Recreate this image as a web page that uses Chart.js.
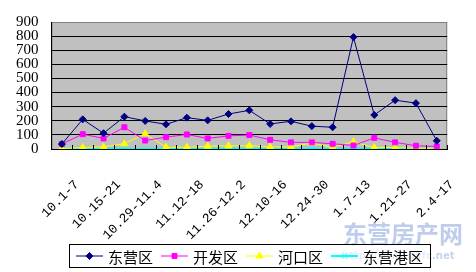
<!DOCTYPE html>
<html>
<head>
<meta charset="utf-8">
<script src="https://cdn.jsdelivr.net/npm/chart.js@4"></script>
<style>
  html, body { margin: 0; padding: 0; background: #fff; }
</style>
</head>
<body>
<canvas id="chart" width="476" height="272"></canvas>
<script>
// weekly periods (x categories)
const weeks = ['10.1-7', '10.8-14', '10.15-21', '10.22-28', '10.29-11.4', '11.5-11', '11.12-18', '11.19-25',
  '11.26-12.2', '12.3-9', '12.10-16', '12.17-23', '12.24-30', '12.31-1.6', '1.7-13', '1.14-20', '1.21-27',
  '1.28-2.3', '2.4-17'];
// only every other week is labelled on the axis
const shownLabels = ['10.1-7', '10.15-21', '10.29-11.4', '11.12-18', '11.26-12.2', '12.10-16', '12.24-30',
  '1.7-13', '1.21-27', '2.4-17'];
const yTicks = [0, 100, 200, 300, 400, 500, 600, 700, 800, 900];

const dongying = [35, 210, 112, 229, 199, 175, 222, 203, 248, 274, 178, 196, 162, 154, 793, 241, 346, 325, 58];
const kaifa = [36, 105, 75, 154, 60, 84, 103, 75, 93, 99, 65, 47, 47, 37, 25, 79, 47, 23, 18];
const hekou = [3, 10, 15, 37, 108, 12, 12, 20, 22, 23, 14, 15, 42, 12, 51, 10, 10, 5, 5];
const gangqu = [3, 2, 3, 2, 2, 3, 2, 2, 3, 2, 2, 2, 3, 2, 2, 3, 2, 2, 2];

// plot background, inward x ticks, boxed legend and watermark
const excelLook = {
  id: 'excelLook',
  beforeDraw(chart) {
    const ctx = chart.ctx, a = chart.chartArea;
    ctx.save();
    ctx.fillStyle = '#c0c0c0';
    ctx.fillRect(a.left, a.top, a.right - a.left, a.bottom - a.top);
    ctx.strokeStyle = '#808080';
    ctx.lineWidth = 1;
    ctx.strokeRect(a.left + 0.5, a.top + 0.5, a.right - a.left - 1, a.bottom - a.top);
    ctx.restore();
  },
  afterDraw(chart) {
    const ctx = chart.ctx, a = chart.chartArea;
    const xs = chart.scales.x;
    ctx.save();
    // tick marks at category boundaries, pointing up into the plot
    ctx.strokeStyle = '#000';
    ctx.lineWidth = 1;
    const n = weeks.length;
    for (let i = 0; i <= n; i++) {
      const x = Math.round(xs.getPixelForDecimal(i / n)) + 0.5;
      ctx.beginPath();
      ctx.moveTo(x, a.bottom);
      ctx.lineTo(x, a.bottom - 4);
      ctx.stroke();
    }

    // watermark
    ctx.fillStyle = 'rgba(110, 145, 210, 0.45)';
    ctx.font = 'bold 24px "Noto Sans CJK SC"';
    ctx.textBaseline = 'alphabetic';
    ctx.textAlign = 'left';
    ctx.fillText('东营房产网', 343, 243);
    ctx.fillStyle = 'rgba(110, 145, 210, 0.4)';
    ctx.font = 'bold 10px "DejaVu Sans"';
    ctx.fillText('http://www.dyfc.net', 342, 259);

    // legend
    const sets = chart.data.datasets;
    ctx.font = '15px "Noto Sans CJK SC"';
    const lineLen = 27, gapText = 5, gapItem = 8, padX = 7;
    const widths = sets.map(d => lineLen + gapText + ctx.measureText(d.label).width);
    const total = widths.reduce((s, w) => s + w, 0) + gapItem * (sets.length - 1) + padX * 2;
    const boxLeft = Math.round((a.left + a.right) / 2 - total / 2);
    const boxTop = 244, boxH = 23;
    ctx.fillStyle = 'rgba(255, 255, 255, 0.6)';
    ctx.fillRect(boxLeft, boxTop, total, boxH);
    ctx.strokeStyle = '#000';
    ctx.strokeRect(boxLeft + 0.5, boxTop + 0.5, total, boxH);
    const cy = boxTop + boxH / 2 + 0.5;
    let x = boxLeft + padX;
    sets.forEach((d, i) => {
      ctx.strokeStyle = d.borderColor;
      ctx.lineWidth = d.borderWidth;
      ctx.beginPath();
      ctx.moveTo(x, cy);
      ctx.lineTo(x + lineLen, cy);
      ctx.stroke();
      ctx.fillStyle = d.pointBackgroundColor;
      ctx.strokeStyle = d.pointBorderColor;
      ctx.lineWidth = d.pointBorderWidth;
      Chart.helpers.drawPoint(ctx, {
        pointStyle: d.pointStyle, radius: d.pointRadius, borderWidth: d.pointBorderWidth, rotation: 0
      }, x + lineLen / 2, cy);
      ctx.fillStyle = '#000';
      ctx.font = '15px "Noto Sans CJK SC"';
      ctx.textBaseline = 'middle';
      ctx.fillText(d.label, x + lineLen + gapText, cy + 1);
      x += widths[i] + gapItem;
    });
    ctx.restore();
  }
};

function series(label, data, color, style, radius, width) {
  return {
    label: label,
    data: data,
    borderColor: color,
    backgroundColor: color,
    borderWidth: width,
    pointStyle: style,
    pointRadius: radius,
    pointHoverRadius: radius,
    pointBackgroundColor: color,
    pointBorderColor: color,
    pointBorderWidth: 1,
    fill: false,
    tension: 0
  };
}

const ctx = document.getElementById('chart').getContext('2d');
new Chart(ctx, {
  type: 'line',
  data: {
    labels: weeks,
    datasets: [
      series('东营区', dongying, '#000080', 'rectRot', 3.5, 1),
      series('开发区', kaifa, '#ff00ff', 'rect', 3.5, 1),
      series('河口区', hekou, '#ffff00', 'triangle', 4, 1),
      series('东营港区', gangqu, '#00ffff', 'crossRot', 3.5, 2)
    ]
  },
  options: {
    responsive: false,
    animation: false,
    layout: {
      padding: { top: 21, right: 9, bottom: 10, left: 0 }
    },
    scales: {
      x: {
        type: 'category',
        offset: true,
        border: { display: true, color: '#000', width: 1 },
        grid: { drawOnChartArea: false, drawTicks: false },
        ticks: {
          autoSkip: false,
          maxRotation: 45,
          minRotation: 45,
          padding: 28,
          labelOffset: 15,
          color: '#000',
          font: { family: 'Liberation Mono', size: 13 },
          callback: function(value, index) {
            return shownLabels.includes(weeks[index]) ? weeks[index] : '';
          }
        },
        afterFit: function(scale) { scale.height = 113; }
      },
      y: {
        min: 0,
        max: 900,
        afterBuildTicks: function(scale) {
          scale.ticks = yTicks.map(v => ({ value: v }));
        },
        border: { display: true, color: '#000', width: 1 },
        grid: {
          drawTicks: false,
          color: function(c) { return c.tick && c.tick.value === 900 ? '#808080' : '#000'; },
          lineWidth: 1
        },
        ticks: {
          autoSkip: false,
          padding: 13,
          color: '#000',
          font: { family: 'Liberation Serif', size: 15 }
        },
        afterFit: function(scale) { scale.width = 50; }
      }
    },
    plugins: {
      legend: { display: false },
      tooltip: { enabled: false }
    }
  },
  plugins: [excelLook]
});
</script>
</body>
</html>
